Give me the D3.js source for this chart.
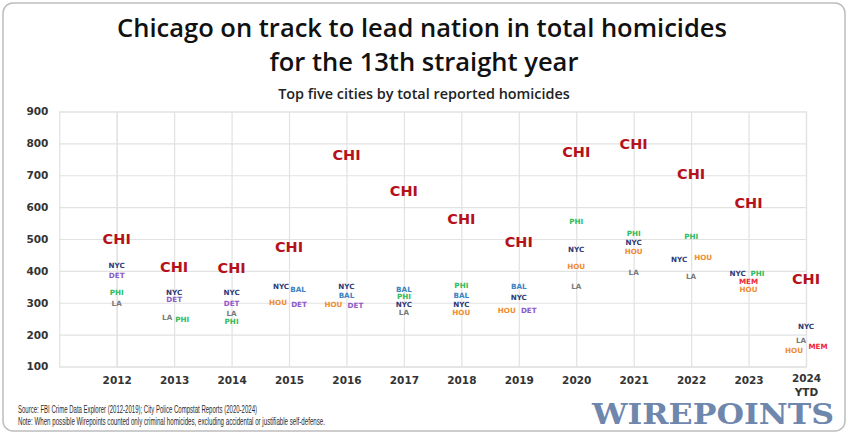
<!DOCTYPE html>
<html>
<head>
<meta charset="utf-8">
<script src="https://cdn.jsdelivr.net/npm/d3@7"></script>
<style>
  html, body { margin: 0; padding: 0; background: #fff; }
  svg { display: block; }
</style>
</head>
<body>
<svg id="chart" width="848" height="437"></svg>
<script>
// ---------- DATA ----------
const years = ["2012","2013","2014","2015","2016","2017","2018","2019","2020","2021","2022","2023","2024 YTD"];
const yTicks = [100, 200, 300, 400, 500, 600, 700, 800, 900];

const cities = ["CHI","NYC","DET","PHI","LA","BAL","HOU","MEM"];
const CHI = [500, 414, 410, 476, 764, 650, 562, 490, 774, 800, 706, 614, 374];
const NYC = [416, 334, 333, 351, 350, 296, 295, 317, 467, 488, 437, 391, 225];
const DET = [385, 309, 298, 295, 293, null, null, 275, null, null, null, null, null];
const PHI = [331, 248, 241, null, null, 319, 353, null, 556, 516, 509, 391, null];
const LA  = [298, 253, 267, null, null, 271, null, null, 350, 396, 384, null, 181];
const BAL = [null, null, null, 343, 322, 343, 322, 350, null, null, null, null, null];
const HOU = [null, null, null, 300, 295, null, 269, 275, 413, 460, 441, 343, 152];
const MEM = [null, null, null, null, null, null, null, null, null, null, null, 367, 162];
const series = { CHI, NYC, DET, PHI, LA, BAL, HOU, MEM };

const titleLines = ["Chicago on track to lead nation in total homicides", "for the 13th straight year"];
const subtitle = "Top five cities by total reported homicides";
const footnotes = [
  "Source: FBI Crime Data Explorer (2012-2019); City Police Compstat Reports (2020-2024)",
  "Note: When possible Wirepoints counted only criminal homicides, excluding accidental or justifiable self-defense."
];
const brand = "WIREPOINTS";

// ---------- STYLE / LAYOUT ----------
const colors = {
  CHI: "#b5121b", NYC: "#2d3a78", DET: "#8a5bc8", PHI: "#2dbb60",
  LA: "#7a7a7a", BAL: "#3c84c2", HOU: "#f08c2e", MEM: "#ee2a3a"
};
// horizontal nudges (px) for side-by-side labels: key "yearIndex-city"
const nudge = {
  "1-LA": -7, "1-PHI": 8,
  "3-NYC": -8, "3-BAL": 9, "3-HOU": -11, "3-DET": 10,
  "4-HOU": -13, "4-DET": 9,
  "7-HOU": -12, "7-DET": 10,
  "10-NYC": -12, "10-HOU": 12,
  "11-NYC": -11, "11-PHI": 9,
  "12-LA": -5, "12-HOU": -12, "12-MEM": 12
};

const svg = d3.select("#chart");
const plot = { left: 59.3, right: 806, top: 111.5, bottom: 366.5 };

// frame
svg.append("rect")
  .attr("x", 3).attr("y", 3).attr("width", 842).attr("height", 428)
  .attr("rx", 10).attr("ry", 10)
  .attr("fill", "#fff").attr("stroke", "#bdbdbd").attr("stroke-width", 1.5);

// scales
const x = d3.scalePoint().domain(years).range([116.7, plot.right]);
const y = d3.scaleLinear().domain([100, 900]).range([plot.bottom, plot.top]);

const gridColor = "#e2e2e2";

// y axis + horizontal grid
const yAxis = svg.append("g")
  .attr("transform", `translate(${plot.left},0)`)
  .call(d3.axisLeft(y).tickValues(yTicks).tickFormat(d3.format("d"))
    .tickSize(-(plot.right - plot.left)).tickPadding(11));
yAxis.select(".domain").attr("stroke", gridColor).attr("stroke-width", 1.2);
yAxis.selectAll(".tick line").attr("stroke", gridColor).attr("stroke-width", 1.2);
yAxis.selectAll(".tick text")
  .attr("font-family", "DejaVu Sans, sans-serif").attr("font-weight", "bold")
  .attr("font-size", 10.5).attr("fill", "#333");

// x axis + vertical grid
const xAxis = svg.append("g")
  .attr("transform", `translate(0,${plot.bottom})`)
  .call(d3.axisBottom(x).tickSize(-(plot.bottom - plot.top)).tickPadding(10));
xAxis.select(".domain").attr("stroke", gridColor).attr("stroke-width", 1.2);
xAxis.selectAll(".tick line").attr("stroke", gridColor).attr("stroke-width", 1.2);
xAxis.selectAll(".tick text")
  .attr("font-family", "DejaVu Sans, sans-serif").attr("font-weight", "bold")
  .attr("font-size", 10.5).attr("fill", "#333")
  .each(function(d) {
    const parts = d.split(" ");
    if (parts.length > 1) {
      const t = d3.select(this).text(null).attr("dy", null).attr("y", 0);
      t.append("tspan").attr("x", 0).attr("y", 15).text(parts[0]);
      t.append("tspan").attr("x", 0).attr("y", 29).text(parts[1]);
    }
  });

// labels
const labels = [];
years.forEach((yr, i) => {
  cities.forEach(c => {
    const v = series[c][i];
    if (v != null) labels.push({ yr, i, c, v });
  });
});
svg.append("g").selectAll("text").data(labels).join("text")
  .attr("x", d => x(d.yr) + (nudge[d.i + "-" + d.c] || 0))
  .attr("y", d => y(d.v))
  .attr("dy", "0.36em")
  .attr("text-anchor", "middle")
  .attr("font-family", "DejaVu Sans, sans-serif")
  .attr("font-weight", "bold")
  .attr("font-size", d => d.c === "CHI" ? 14.5 : 7.2)
  .attr("fill", d => colors[d.c])
  .text(d => d.c);

// titles
function fitText(sel, width) {
  const len = sel.node().getComputedTextLength();
  if (len > 0) sel.attr("font-size", parseFloat(sel.attr("font-size")) * width / len);
}
const t1 = svg.append("text").attr("x", 422).attr("y", 37).attr("text-anchor", "middle")
  .attr("font-family", "Open Sans, sans-serif").attr("font-weight", 600)
  .attr("font-size", 24).attr("fill", "#111").text(titleLines[0]);
fitText(t1, 610);
const fs = t1.attr("font-size");
svg.append("text").attr("x", 424).attr("y", 71).attr("text-anchor", "middle")
  .attr("font-family", "Open Sans, sans-serif").attr("font-weight", 600)
  .attr("font-size", fs).attr("fill", "#111").text(titleLines[1]);

const st = svg.append("text").attr("x", 424).attr("y", 99).attr("text-anchor", "middle")
  .attr("font-family", "Open Sans, sans-serif").attr("font-weight", 600)
  .attr("font-size", 13.5).attr("fill", "#222").text(subtitle);
fitText(st, 292);

// footnotes
const f1 = svg.append("text").attr("x", 18).attr("y", 413)
  .attr("font-family", "Liberation Sans Narrow, Liberation Sans, sans-serif")
  .attr("font-size", 10).attr("fill", "#2a2a2a").text(footnotes[0]);
f1.attr("textLength", 239).attr("lengthAdjust", "spacingAndGlyphs");
const f2 = svg.append("text").attr("x", 18).attr("y", 425)
  .attr("font-family", "Liberation Sans Narrow, Liberation Sans, sans-serif")
  .attr("font-size", 10).attr("fill", "#2a2a2a").text(footnotes[1]);
f2.attr("textLength", 307).attr("lengthAdjust", "spacingAndGlyphs");

// brand
svg.append("text").attr("x", 592).attr("y", 424)
  .attr("font-family", "DejaVu Serif, serif").attr("font-weight", "bold")
  .attr("font-size", 27).attr("fill", "#6f87ad")
  .attr("textLength", 242).attr("lengthAdjust", "spacingAndGlyphs")
  .text(brand);
</script>
</body>
</html>
